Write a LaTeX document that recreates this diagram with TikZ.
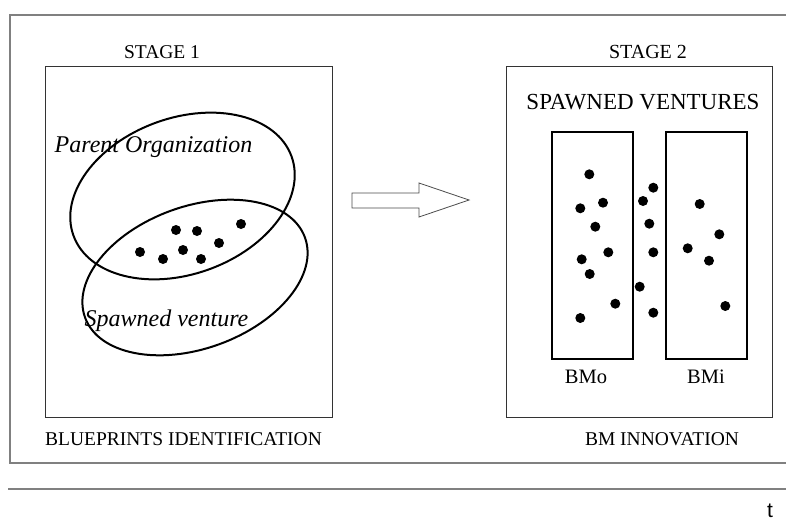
\documentclass[tikz,border=0pt]{standalone}
\usepackage{fontspec}
\setmainfont{Liberation Serif}
\newfontfamily\sansf{Liberation Sans}
\usetikzlibrary{shapes.geometric}
\tikzset{
  dot/.style={circle,fill=black,inner sep=0pt,minimum size=10pt},
  frameline/.style={draw=black!50,line width=1.5pt},
  stagebox/.style={draw=black!80,line width=1pt,inner sep=0pt,fill=none},
  bmbox/.style={draw=black,line width=2.4pt,inner sep=0pt,minimum width=81pt,minimum height=227pt},
  oval/.style={ellipse,draw=black,line width=2pt,inner sep=0pt},
  lbl/.style={inner sep=0pt,font=\fontsize{19.5pt}{22pt}\selectfont},
  ital/.style={inner sep=0pt,font=\fontsize{24pt}{28pt}\selectfont\itshape},
  blockarrow/.style={draw=black!70,line width=0.8pt,fill=white,line join=miter},
}
\begin{document}
\begin{tikzpicture}[x=1pt,y=-1pt]
\useasboundingbox (0,0) rectangle (786,524);
% outer frame
\coordinate (f1) at (786,15);
\coordinate (f2) at (10,15);
\coordinate (f3) at (10,463);
\coordinate (f4) at (786,463);
\draw[frameline] (f1) -- (f2) -- (f3) -- (f4);
\coordinate (l1) at (8,489);
\coordinate (l2) at (786,489);
\draw[frameline] (l1) -- (l2);
\node[inner sep=0pt,font=\sansf\fontsize{21pt}{24pt}\selectfont] (t) at (770,511) {t};

% stage 1
\node[lbl] (s1) at (162,52) {STAGE 1};
\node[stagebox,minimum width=287pt,minimum height=350pt] (box1) at (188.5,242) {};
\node[oval,rotate=20,minimum width=232pt,minimum height=156pt] (po) at (182.5,196) {};
\node[oval,rotate=20,minimum width=234pt,minimum height=142pt] (sv) at (195,277.5) {};
\node[ital] (pol) at (153.5,147) {Parent Organization};
\node[ital] (svl) at (166.5,321) {Spawned venture};
\foreach \p [count=\i] in {(140,252),(163,259),(176,230),(197,231),(183,250),(201,259),(219,243),(241,224)}
  \node[dot] (a\i) at \p {};
\node[lbl] (bpi) at (183.5,439) {BLUEPRINTS IDENTIFICATION};

% block arrow
\coordinate (ar1) at (352,193);
\coordinate (ar2) at (419,193);
\coordinate (ar3) at (419,183);
\coordinate (ar4) at (469,200);
\coordinate (ar5) at (419,217);
\coordinate (ar6) at (419,208);
\coordinate (ar7) at (352,208);
\draw[blockarrow] (ar1) -- (ar2) -- (ar3) -- (ar4) -- (ar5) -- (ar6) -- (ar7) -- cycle;

% stage 2
\node[lbl,font=\fontsize{20pt}{22pt}\selectfont] (s2) at (648,52) {STAGE 2};
\node[stagebox,minimum width=266pt,minimum height=350pt] (box2) at (639,242) {};
\node[inner sep=0pt,font=\fontsize{23pt}{26pt}\selectfont] (sp) at (643,102) {SPAWNED VENTURES};
\node[bmbox] (bmo) at (592.5,245.5) {};
\node[bmbox] (bmi) at (706.5,245.5) {};
\node[lbl,font=\fontsize{20.5pt}{22pt}\selectfont] (bmol) at (586,377) {BMo};
\node[lbl,font=\fontsize{20.5pt}{22pt}\selectfont] (bmil) at (706,377) {BMi};
\foreach \p [count=\i] in {(589.3,174.3),(580.3,208.3),(603,202.7),(595.3,226.7),(608.3,252.3),(581.7,259.3),(589.7,274),(615.3,303.7),(580.3,318),
  (653.3,187.7),(643,201),(649.3,223.7),(653.3,252.3),(639.7,286.7),(653.3,312.7),
  (699.7,204),(719.3,234.3),(687.7,248.3),(709,260.7),(725.3,306)}
  \node[dot] (b\i) at \p {};
\node[lbl] (bmin) at (662,439) {BM INNOVATION};
\end{tikzpicture}
\end{document}
